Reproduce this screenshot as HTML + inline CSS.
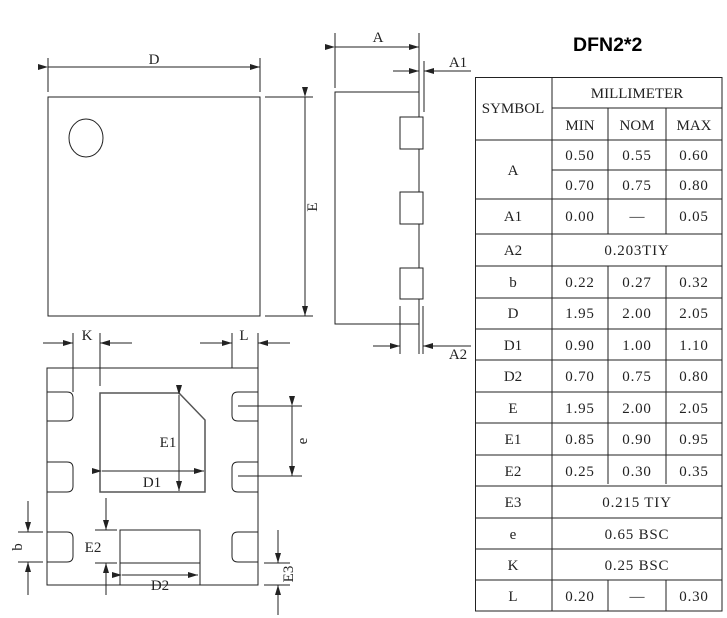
<!DOCTYPE html>
<html><head><meta charset="utf-8"><style>
html,body{margin:0;padding:0;background:#fff;}
svg{display:block;}
text{font-family:"Liberation Serif","Noto Serif CJK SC",serif;fill:#222;}
.t{font-size:15px;text-anchor:middle;}
.n{letter-spacing:0.8px;}
</style></head><body>
<svg width="727" height="618" viewBox="0 0 727 618" xmlns="http://www.w3.org/2000/svg">
<defs>
<marker id="a" viewBox="0 0 10 6" refX="10" refY="3" markerWidth="10" markerHeight="6" orient="auto" markerUnits="userSpaceOnUse"><path d="M0,0 L10,3 L0,6 z" fill="#222"/></marker>
</defs>
<g stroke="#222" stroke-width="1" fill="none">
<rect x="48" y="97" width="212" height="219"/>
<ellipse cx="86" cy="138" rx="17" ry="19"/>
<line x1="48" y1="58" x2="48" y2="92"/><line x1="260" y1="58" x2="260" y2="92"/>
<line x1="48" y1="67" x2="260" y2="67" marker-start="url(#a)" marker-end="url(#a)"/>
<line x1="265" y1="97" x2="313" y2="97"/><line x1="265" y1="316" x2="313" y2="316"/>
<line x1="305" y1="97" x2="305" y2="316" marker-start="url(#a)" marker-end="url(#a)"/>
<polyline points="419,92 335,92 335,324 419,324"/>
<line x1="419" y1="33" x2="419" y2="117"/><line x1="419" y1="149" x2="419" y2="192"/><line x1="419" y1="224" x2="419" y2="268"/><line x1="419" y1="299" x2="419" y2="354"/>
<rect x="400" y="117" width="23" height="32"/><rect x="400" y="192" width="23" height="32"/><rect x="400" y="268" width="23" height="31"/>
<line x1="335" y1="33" x2="335" y2="88"/>
<line x1="335" y1="47" x2="419" y2="47" marker-start="url(#a)" marker-end="url(#a)"/>
<line x1="424" y1="61" x2="424" y2="112"/>
<line x1="393" y1="71" x2="419" y2="71" marker-end="url(#a)"/><line x1="471" y1="71" x2="424" y2="71" marker-end="url(#a)"/>
<line x1="400" y1="306" x2="400" y2="354"/><line x1="423" y1="306" x2="423" y2="354"/>
<line x1="373" y1="346" x2="400" y2="346" marker-end="url(#a)"/><line x1="471" y1="346" x2="423" y2="346" marker-end="url(#a)"/>
<rect x="47" y="368" width="211" height="217"/>
<path d="M47,392 H67 Q73,392 73,398 V415 Q73,421 67,421 H47"/>
<path d="M47,462 H67 Q73,462 73,468 V486 Q73,492 67,492 H47"/>
<path d="M47,532 H67 Q73,532 73,538 V556 Q73,562 67,562 H47"/>
<path d="M258,392 H238 Q232,392 232,398 V415 Q232,421 238,421 H258"/>
<path d="M258,462 H238 Q232,462 232,468 V486 Q232,492 238,492 H258"/>
<path d="M258,532 H238 Q232,532 232,538 V556 Q232,562 238,562 H258"/>
<path d="M100,393 H179 L205,420 V492 H100 Z" stroke="#555" stroke-width="1.5"/>
<rect x="120" y="530" width="80" height="33"/>
<line x1="73" y1="333" x2="73" y2="392"/><line x1="100" y1="333" x2="100" y2="386"/>
<line x1="43" y1="343" x2="73" y2="343" marker-end="url(#a)"/><line x1="132" y1="343" x2="100" y2="343" marker-end="url(#a)"/>
<line x1="232" y1="333" x2="232" y2="368"/><line x1="258" y1="333" x2="258" y2="368"/>
<line x1="200" y1="343" x2="232" y2="343" marker-end="url(#a)"/><line x1="290" y1="343" x2="258" y2="343" marker-end="url(#a)"/>
<line x1="179" y1="395" x2="179" y2="491" marker-start="url(#a)" marker-end="url(#a)"/>
<line x1="102" y1="471" x2="204" y2="471" marker-start="url(#a)" marker-end="url(#a)"/>
<line x1="238" y1="406" x2="302" y2="406"/><line x1="238" y1="476" x2="302" y2="476"/>
<line x1="292" y1="406" x2="292" y2="476" marker-start="url(#a)" marker-end="url(#a)"/>
<line x1="18" y1="532" x2="43" y2="532"/><line x1="18" y1="562" x2="43" y2="562"/>
<line x1="28" y1="501" x2="28" y2="532" marker-end="url(#a)"/><line x1="28" y1="595" x2="28" y2="562" marker-end="url(#a)"/>
<line x1="95" y1="530" x2="117" y2="530"/><line x1="95" y1="563" x2="117" y2="563"/>
<line x1="106" y1="498" x2="106" y2="530" marker-end="url(#a)"/><line x1="106" y1="595" x2="106" y2="563" marker-end="url(#a)"/>
<line x1="120" y1="563" x2="120" y2="585"/><line x1="200" y1="563" x2="200" y2="585"/>
<line x1="122" y1="575" x2="198" y2="575" marker-start="url(#a)" marker-end="url(#a)"/>
<line x1="264" y1="563" x2="290" y2="563"/><line x1="264" y1="585" x2="290" y2="585"/>
<line x1="278" y1="530" x2="278" y2="563" marker-end="url(#a)"/><line x1="278" y1="615" x2="278" y2="585" marker-end="url(#a)"/>
<rect x="475.5" y="77.5" width="246.5" height="533.5"/>
<line x1="552" y1="77" x2="552" y2="611"/>
<line x1="552" y1="108" x2="722" y2="108"/>
<line x1="608" y1="108" x2="608" y2="234"/><line x1="666" y1="108" x2="666" y2="234"/>
<line x1="608" y1="266" x2="608" y2="484"/><line x1="666" y1="266" x2="666" y2="484"/>
<line x1="608" y1="580" x2="608" y2="611"/><line x1="666" y1="580" x2="666" y2="611"/>
<line x1="475" y1="140" x2="722" y2="140"/>
<line x1="552" y1="170" x2="722" y2="170"/>
<line x1="475" y1="199" x2="722" y2="199"/>
<line x1="475" y1="234" x2="722" y2="234"/>
<line x1="475" y1="266" x2="722" y2="266"/>
<line x1="475" y1="298" x2="722" y2="298"/>
<line x1="475" y1="329" x2="722" y2="329"/>
<line x1="475" y1="360" x2="722" y2="360"/>
<line x1="475" y1="392" x2="722" y2="392"/>
<line x1="475" y1="423" x2="722" y2="423"/>
<line x1="475" y1="455" x2="722" y2="455"/>
<line x1="475" y1="486" x2="722" y2="486"/>
<line x1="475" y1="518" x2="722" y2="518"/>
<line x1="475" y1="549" x2="722" y2="549"/>
<line x1="475" y1="580" x2="722" y2="580"/>
</g>
<text class="t" x="154" y="64">D</text>
<text class="t" x="317" y="207" transform="rotate(-90 317 207)">E</text>
<text class="t" x="378" y="42">A</text>
<text class="t" x="458" y="67">A1</text>
<text class="t" x="458" y="359">A2</text>
<text class="t" x="87" y="340">K</text>
<text class="t" x="244" y="340">L</text>
<text class="t" x="168" y="447">E1</text>
<text class="t" x="152" y="487">D1</text>
<text class="t" x="307" y="441" transform="rotate(-90 307 441)">e</text>
<text class="t" x="22" y="547" transform="rotate(-90 22 547)">b</text>
<text class="t" x="93" y="552">E2</text>
<text class="t" x="160" y="590">D2</text>
<text class="t" x="293" y="574" transform="rotate(-90 293 574)">E3</text>
<text x="573" y="51" style="font-family:'Liberation Sans',sans-serif;font-weight:bold;font-size:19.5px;fill:#000">DFN2*2</text>
<g>
<text class="t" x="513" y="113" font-size="13.5">SYMBOL</text>
<text class="t" x="637" y="98" font-size="13.5">MILLIMETER</text>
<text class="t" x="580" y="130" font-size="13.5">MIN</text>
<text class="t" x="637" y="130" font-size="13.5">NOM</text>
<text class="t" x="694" y="130" font-size="13.5">MAX</text>
<text class="t" x="513" y="175">A</text>
<text class="t n" x="580" y="160">0.50</text><text class="t n" x="637" y="160">0.55</text><text class="t n" x="694" y="160">0.60</text>
<text class="t n" x="580" y="190">0.70</text><text class="t n" x="637" y="190">0.75</text><text class="t n" x="694" y="190">0.80</text>
<text class="t" x="513" y="221">A1</text><text class="t n" x="580" y="221">0.00</text><text class="t" x="637" y="221">—</text><text class="t n" x="694" y="221">0.05</text>
<text class="t" x="513" y="255">A2</text><text class="t n" x="637" y="255">0.203TIY</text>
<text class="t" x="513" y="287">b</text><text class="t n" x="580" y="287">0.22</text><text class="t n" x="637" y="287">0.27</text><text class="t n" x="694" y="287">0.32</text>
<text class="t" x="513" y="318">D</text><text class="t n" x="580" y="318">1.95</text><text class="t n" x="637" y="318">2.00</text><text class="t n" x="694" y="318">2.05</text>
<text class="t" x="513" y="350">D1</text><text class="t n" x="580" y="350">0.90</text><text class="t n" x="637" y="350">1.00</text><text class="t n" x="694" y="350">1.10</text>
<text class="t" x="513" y="381">D2</text><text class="t n" x="580" y="381">0.70</text><text class="t n" x="637" y="381">0.75</text><text class="t n" x="694" y="381">0.80</text>
<text class="t" x="513" y="413">E</text><text class="t n" x="580" y="413">1.95</text><text class="t n" x="637" y="413">2.00</text><text class="t n" x="694" y="413">2.05</text>
<text class="t" x="513" y="444">E1</text><text class="t n" x="580" y="444">0.85</text><text class="t n" x="637" y="444">0.90</text><text class="t n" x="694" y="444">0.95</text>
<text class="t" x="513" y="476">E2</text><text class="t n" x="580" y="476">0.25</text><text class="t n" x="637" y="476">0.30</text><text class="t n" x="694" y="476">0.35</text>
<text class="t" x="513" y="507">E3</text><text class="t n" x="637" y="507">0.215 TIY</text>
<text class="t" x="513" y="539">e</text><text class="t n" x="637" y="539">0.65 BSC</text>
<text class="t" x="513" y="570">K</text><text class="t n" x="637" y="570">0.25 BSC</text>
<text class="t" x="513" y="601">L</text><text class="t n" x="580" y="601">0.20</text><text class="t" x="637" y="601">—</text><text class="t n" x="694" y="601">0.30</text>
</g>
</svg>
</body></html>
